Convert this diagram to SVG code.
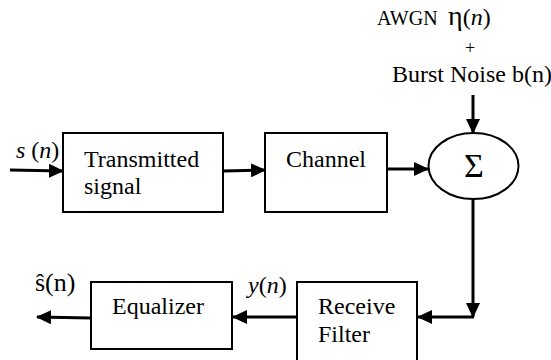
<svg xmlns="http://www.w3.org/2000/svg" width="551" height="360" viewBox="0 0 551 360">
<style>
.box{fill:#fff;stroke:#000;stroke-width:2}
.t{font-family:"Liberation Serif","Times New Roman",serif;font-size:24px;fill:#000}
.i{font-style:italic}
.c{fill:none;stroke:#000;stroke-width:3}
</style>
<defs>
<marker id="ah" markerWidth="15" markerHeight="14" refX="14" refY="7" orient="auto" markerUnits="userSpaceOnUse">
<path d="M0,0 L15,7 L0,14 Z" fill="#000"/>
</marker>
</defs>
<rect width="551" height="360" fill="#fff"/>
<g id="labels">
<text class="t" x="377" y="25" style="font-size:20px">AWGN</text>
<text class="t" x="448" y="25" style="font-size:28px">η<tspan style="font-size:24px">(<tspan class="i">n</tspan>)</tspan></text>
<text class="t" x="465" y="54" style="font-size:18px">+</text>
<text class="t" x="392" y="82">Burst Noise b(n)</text>
<text class="t" x="16" y="158"><tspan class="i">s</tspan> (<tspan class="i">n</tspan>)</text>
<text class="t" x="248" y="293"><tspan class="i">y</tspan>(<tspan class="i">n</tspan>)</text>
<text class="t" x="35" y="291" style="font-size:26px">ŝ(n)</text>
</g>
<g id="connectors">
<line class="c" x1="10" y1="170" x2="63" y2="171" marker-end="url(#ah)"/>
<line class="c" x1="223" y1="171" x2="265" y2="170" marker-end="url(#ah)"/>
<line class="c" x1="387" y1="169" x2="428" y2="169" marker-end="url(#ah)"/>
<line class="c" x1="473" y1="95" x2="473" y2="133" marker-end="url(#ah)"/>
<line class="c" x1="473" y1="199" x2="473" y2="317" marker-end="url(#ah)"/>
<line class="c" x1="474" y1="317" x2="418" y2="317" marker-end="url(#ah)"/>
<line class="c" x1="297" y1="317" x2="233" y2="317" marker-end="url(#ah)"/>
<line class="c" x1="91" y1="318" x2="37" y2="317" marker-end="url(#ah)"/>
</g>
<g id="transmitted">
<rect class="box" x="63" y="133" width="160" height="79"/>
<text class="t" x="84" y="167">Transmitted</text>
<text class="t" x="84" y="194">signal</text>
</g>
<g id="channel">
<rect class="box" x="265" y="133" width="122" height="79"/>
<text class="t" x="286" y="167">Channel</text>
</g>
<g id="sum">
<ellipse class="box" cx="473.5" cy="166" rx="45" ry="33"/>
<text class="t" x="474" y="177" style="font-size:34px" text-anchor="middle">Σ</text>
</g>
<g id="receive">
<rect class="box" x="297" y="282" width="120" height="82"/>
<text class="t" x="318" y="314">Receive</text>
<text class="t" x="318" y="342">Filter</text>
</g>
<g id="equalizer">
<rect class="box" x="91" y="282" width="141" height="67"/>
<text class="t" x="112" y="314">Equalizer</text>
</g>
</svg>
